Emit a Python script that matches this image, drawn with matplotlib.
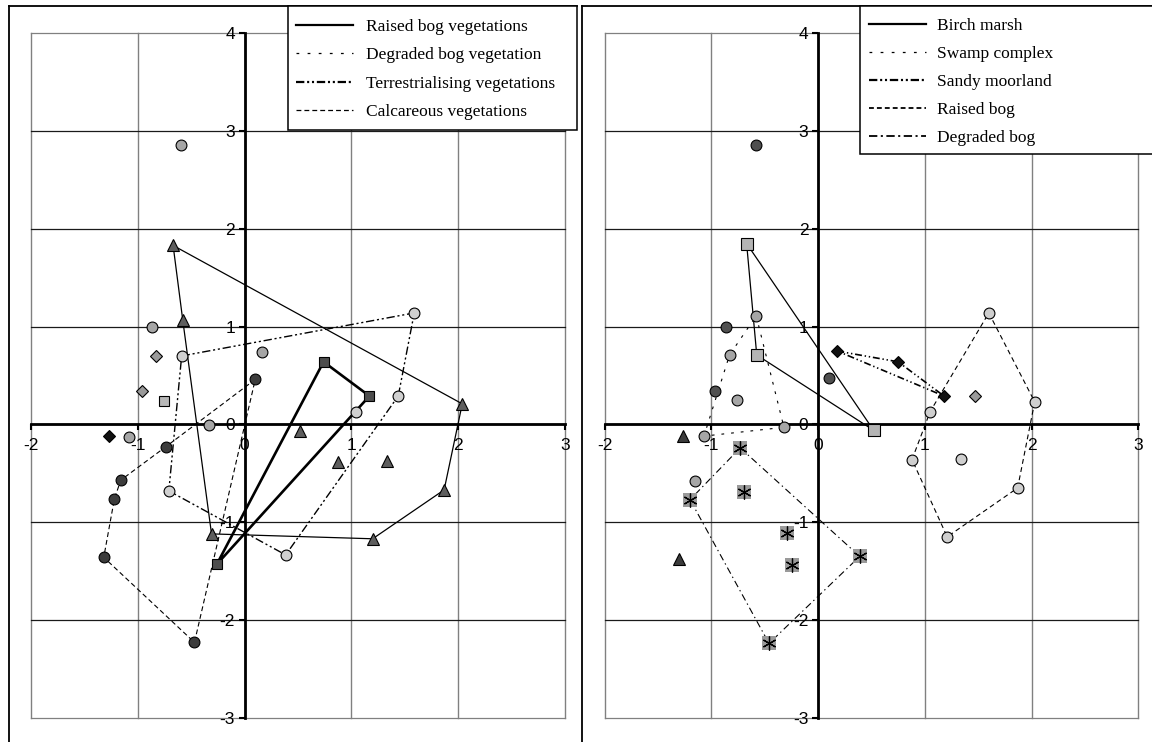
import numpy as np
import matplotlib.pyplot as plt
from matplotlib.lines import Line2D
from matplotlib.patches import Rectangle

plt.rcParams["lines.scale_dashes"] = False
plt.rcParams["axes.unicode_minus"] = False

W, H = 1152, 742
X_TICKS = [-2, -1, 0, 1, 2, 3]
Y_TICKS = [-3, -2, -1, 0, 1, 2, 3, 4]

# ---- left panel: vegetation types ----
L_TRI_X = [-0.67, -0.58, 2.04, 0.52, 0.88, 1.33, 1.87, -0.31, 1.20]
L_TRI_Y = [1.83, 1.07, 0.21, -0.07, -0.38, -0.37, -0.67, -1.12, -1.17]
L_TRI_HULL_X = [-0.67, 2.04, 1.87, 1.20, -0.31, -0.58]
L_TRI_HULL_Y = [1.83, 0.21, -0.67, -1.17, -1.12, 1.07]

L_SQ_X = [0.74, 1.17, -0.26]
L_SQ_Y = [0.64, 0.29, -1.43]
L_SQ_LIGHT_X = [-0.76]
L_SQ_LIGHT_Y = [0.24]

L_DARK_X = [0.10, -0.74, -1.16, -1.22, -1.32, -0.47]
L_DARK_Y = [0.46, -0.23, -0.57, -0.76, -1.36, -2.23]

L_GRAY_X = [-0.60, -0.87, 0.165, -0.33, -1.08]
L_GRAY_Y = [2.86, 1.00, 0.745, -0.01, -0.13]

L_LIGHT_X = [-0.59, 1.59, 1.44, 0.385, -0.71, 1.04]
L_LIGHT_Y = [0.70, 1.14, 0.29, -1.335, -0.68, 0.13]
L_LIGHT_HULL_X = [-0.59, 1.59, 1.44, 0.385, -0.71]
L_LIGHT_HULL_Y = [0.70, 1.14, 0.29, -1.335, -0.68]

L_DIA_GRAY_X = [-0.83, -0.965]
L_DIA_GRAY_Y = [0.70, 0.34]
L_DIA_BLACK_X = [-1.27]
L_DIA_BLACK_Y = [-0.12]

L_LABELS = ["Raised bog vegetations", "Degraded bog vegetation",
            "Terrestrialising vegetations", "Calcareous vegetations"]

# ---- right panel: landscape types ----
R_BIRCH_X = [-0.67, 0.52, -0.575]
R_BIRCH_Y = [1.85, -0.06, 0.71]

R_DARK_X = [-0.585, -0.86, 0.10, -0.97]
R_DARK_Y = [2.86, 1.00, 0.47, 0.345]

R_GRAY_X = [-0.58, -0.32, -1.07, -0.83, -0.76, -1.15]
R_GRAY_Y = [1.11, -0.03, -0.12, 0.71, 0.25, -0.58]
R_SWAMP_X = [-0.58, -0.32, -1.07, -0.83]
R_SWAMP_Y = [1.11, -0.03, -0.12, 0.71]

R_SANDY_X = [0.18, 0.75, 1.18]
R_SANDY_Y = [0.75, 0.64, 0.29]
R_DIA_GRAY_X = [1.47]
R_DIA_GRAY_Y = [0.29]

R_LIGHT_X = [1.60, 2.03, 1.87, 1.21, 0.88, 1.05, 1.34]
R_LIGHT_Y = [1.14, 0.23, -0.65, -1.15, -0.36, 0.13, -0.35]
R_RAISED_X = [1.60, 2.03, 1.87, 1.21, 0.88, 1.05]
R_RAISED_Y = [1.14, 0.23, -0.65, -1.15, -0.36, 0.13]

R_STAR_X = [-0.73, -0.69, -1.20, -0.29, 0.39, -0.24, -0.46]
R_STAR_Y = [-0.24, -0.69, -0.77, -1.11, -1.35, -1.44, -2.24]
R_DEGR_X = [-0.73, 0.39, -0.46, -1.20]
R_DEGR_Y = [-0.24, -1.35, -2.24, -0.77]

R_TRI_X = [-1.27, -1.30]
R_TRI_Y = [-0.12, -1.38]

R_LABELS = ["Birch marsh", "Swamp complex", "Sandy moorland",
            "Raised bog", "Degraded bog"]

SOLID = "-"
SPARSE = (0, (2, 6))
DASH_DOT_DOT = (0, (6, 2, 1.5, 2, 1.5, 2))
DASHED = (0, (3.5, 2.2))
DASH_DOT = (0, (6, 2.5, 1.5, 2.5))


def box(x0, y0, x1, y1):
    # pixel box (top-left origin) -> figure fraction [l, b, w, h]
    return [x0 / W, 1 - y1 / H, (x1 - x0) / W, (y1 - y0) / H]


def style_axes(ax):
    ax.set_xlim(-2, 3)
    ax.set_ylim(-3, 4)
    for v in X_TICKS:
        ax.axvline(v, color="#808080", lw=1.0, zorder=0.5, clip_on=False)
    for v in Y_TICKS:
        c = "#808080" if v in (Y_TICKS[0], Y_TICKS[-1]) else "#1a1a1a"
        ax.axhline(v, color=c, lw=0.9, zorder=0.5, clip_on=False)
    for s in ["left", "bottom"]:
        ax.spines[s].set_position("zero")
        ax.spines[s].set_linewidth(2.0)
        ax.spines[s].set_zorder(2.5)
    ax.spines["top"].set_visible(False)
    ax.spines["right"].set_visible(False)
    ax.set_xticks(X_TICKS)
    ax.set_yticks(Y_TICKS)
    ax.tick_params(direction="out", length=4, width=1.5, labelsize=12.5)
    ax.tick_params(axis="x", pad=6)
    ax.tick_params(axis="y", pad=3)
    for lab in ax.get_xticklabels() + ax.get_yticklabels():
        lab.set_fontfamily("Liberation Sans")
    ax.set_facecolor("none")


def poly(ax, xs, ys, ls, lw, color="black"):
    ax.plot(np.append(xs, xs[0]), np.append(ys, ys[0]), ls=ls, lw=lw,
            color=color, zorder=3)


def pts(ax, xs, ys, marker, face, ms, edge="black", mew=0.8):
    ax.plot(xs, ys, ls="none", marker=marker, ms=ms, mfc=face, mec=edge,
            mew=mew, zorder=4)


def legend_box(x0, y0, x1, y1, labels, styles, widths, row0, step,
               lx0, lx1, tx):
    fig.add_artist(Rectangle((x0 / W, 1 - y1 / H), (x1 - x0) / W,
                             (y1 - y0) / H, transform=fig.transFigure,
                             fc="white", ec="black", lw=1.1, zorder=5))
    for i, (lab, ls, lw) in enumerate(zip(labels, styles, widths)):
        y = row0 + i * step
        fig.add_artist(Line2D([lx0 / W, lx1 / W], [1 - y / H, 1 - y / H],
                              transform=fig.transFigure, color="black",
                              ls=ls, lw=lw, zorder=6))
        fig.text(tx / W, 1 - (y + 6) / H, lab, fontsize=12.5,
                 family="Liberation Serif", va="baseline", zorder=6)


fig = plt.figure(figsize=(W / 100, H / 100), dpi=100)
ax_l = fig.add_axes(box(31.2, 33.3, 564.7, 717.7))
ax_r = fig.add_axes(box(604.7, 33.3, 1138.2, 717.7))
style_axes(ax_l)
style_axes(ax_r)

# panel frames
for x0, x1 in [(9, 577), (582, 1160)]:
    fig.add_artist(Line2D([x0 / W, x0 / W], [1 - 6 / H, -0.01],
                          transform=fig.transFigure, color="black", lw=1.3))
    fig.add_artist(Line2D([x0 / W, x1 / W], [1 - 6 / H, 1 - 6 / H],
                          transform=fig.transFigure, color="black", lw=1.3))

# left panel
poly(ax_l, L_TRI_HULL_X, L_TRI_HULL_Y, SOLID, 0.9)
poly(ax_l, L_SQ_X, L_SQ_Y, SOLID, 1.9)
poly(ax_l, L_DARK_X, L_DARK_Y, DASHED, 0.8)
poly(ax_l, L_LIGHT_HULL_X, L_LIGHT_HULL_Y, DASH_DOT_DOT, 1.0)
pts(ax_l, L_TRI_X, L_TRI_Y, "^", "#5e5e5e", 9)
pts(ax_l, L_SQ_X, L_SQ_Y, "s", "#4d4d4d", 7.5)
pts(ax_l, L_SQ_LIGHT_X, L_SQ_LIGHT_Y, "s", "#b8b8b8", 7.5)
pts(ax_l, L_DARK_X, L_DARK_Y, "o", "#3c3c3c", 7.8)
pts(ax_l, L_GRAY_X, L_GRAY_Y, "o", "#a6a6a6", 7.8)
pts(ax_l, L_LIGHT_X, L_LIGHT_Y, "o", "#d0d0d0", 7.8)
pts(ax_l, L_DIA_GRAY_X, L_DIA_GRAY_Y, "D", "#9a9a9a", 6.5)
pts(ax_l, L_DIA_BLACK_X, L_DIA_BLACK_Y, "D", "#111111", 6.5)

# right panel
poly(ax_r, R_BIRCH_X, R_BIRCH_Y, SOLID, 0.9)
poly(ax_r, R_SWAMP_X, R_SWAMP_Y, (0, (2, 5)), 0.8)
poly(ax_r, R_SANDY_X, R_SANDY_Y, (0, (5, 2, 1, 2, 1, 2)), 1.2)
poly(ax_r, R_RAISED_X, R_RAISED_Y, (0, (3.5, 2.5)), 0.8)
poly(ax_r, R_DEGR_X, R_DEGR_Y, (0, (5, 2.5, 1, 2.5)), 0.8)
pts(ax_r, R_BIRCH_X, R_BIRCH_Y, "s", "#b4b4b4", 8)
pts(ax_r, R_DARK_X, R_DARK_Y, "o", "#4f4f4f", 7.8)
pts(ax_r, R_GRAY_X, R_GRAY_Y, "o", "#a6a6a6", 7.8)
pts(ax_r, R_LIGHT_X, R_LIGHT_Y, "o", "#cfcfcf", 7.8)
pts(ax_r, R_SANDY_X, R_SANDY_Y, "D", "#111111", 6.5)
pts(ax_r, R_DIA_GRAY_X, R_DIA_GRAY_Y, "D", "#9a9a9a", 6.5)
pts(ax_r, R_TRI_X, R_TRI_Y, "^", "#3c3c3c", 9)
pts(ax_r, R_STAR_X, R_STAR_Y, "s", "#9a9a9a", 10.5, edge="none", mew=0)
pts(ax_r, R_STAR_X, R_STAR_Y, (6, 2, 0), "black", 10, mew=0.9)

legend_box(288, 6, 577, 130, L_LABELS,
           [SOLID, SPARSE, DASH_DOT_DOT, DASHED], [1.6, 0.9, 1.6, 0.9],
           25, 28.3, 296, 353, 366)
legend_box(860, 6, 1160, 154, R_LABELS,
           [SOLID, SPARSE, DASH_DOT_DOT, DASHED, DASH_DOT],
           [1.6, 0.9, 1.6, 1.3, 1.3], 24, 28, 869, 926, 937)

fig.savefig("out.png", dpi=100)
